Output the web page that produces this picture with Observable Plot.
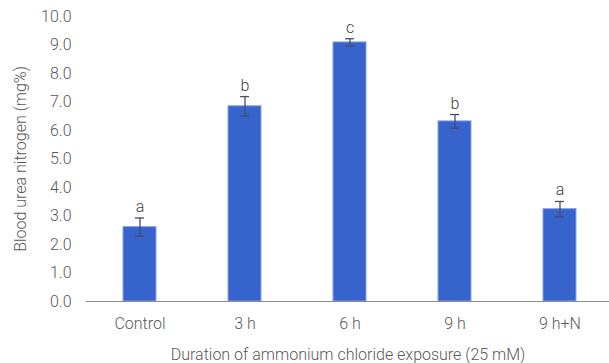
<!DOCTYPE html>
<html>
<head>
<meta charset="utf-8">
<script src="https://cdn.jsdelivr.net/npm/d3@7"></script>
<script src="https://cdn.jsdelivr.net/npm/@observablehq/plot@0.6"></script>
<style>
  html, body { margin: 0; padding: 0; background: #fff; }
  #chart svg { display: block; }
</style>
</head>
<body>
<div id="chart"></div>
<script>
const categories = ["Control", "3 h", "6 h", "9 h", "9 h+N"];
const means = [2.61, 6.85, 9.09, 6.32, 3.24];
const errors = [0.32, 0.34, 0.13, 0.24, 0.27];
const letters = ["a", "b", "c", "b", "a"];
const yTicks = [0, 1, 2, 3, 4, 5, 6, 7, 8, 9, 10];

const data = categories.map((c, i) => ({
  cat: c, mean: means[i], err: errors[i], letter: letters[i],
  lo: means[i] - errors[i], hi: means[i] + errors[i]
}));

const textColor = "#595959";
const font = "Roboto, 'Noto Sans', sans-serif";

const chart = Plot.plot({
  width: 609,
  height: 363,
  marginLeft: 86,
  marginRight: 0,
  marginTop: 16,
  marginBottom: 62,
  style: { fontFamily: font, fontSize: "16px", fontWeight: 300, color: textColor, background: "#fff" },
  x: { type: "band", domain: categories, range: [86, 613], paddingInner: 0.688, paddingOuter: 0.344 },
  y: { domain: [0, 10] },
  marks: [
    Plot.barY(data, { x: "cat", y: "mean", fill: "#3763cc", stroke: "#86a2e8", strokeWidth: 1 }),
    Plot.ruleX(data, { x: "cat", y1: "lo", y2: "hi", stroke: "#4b4b63", strokeWidth: 1.3 }),
    Plot.tickY(data, { x: "cat", y: "hi", stroke: "#4b4b63", strokeWidth: 1.3, insetLeft: 12, insetRight: 12 }),
    Plot.tickY(data, { x: "cat", y: "lo", stroke: "#4b4b63", strokeWidth: 1.3, insetLeft: 12, insetRight: 12 }),
    Plot.text(data, { x: "cat", y: "hi", text: "letter", lineAnchor: "bottom", dy: -6, fill: "#404040", fontSize: 16, fontWeight: 300 }),
    Plot.axisY({ ticks: yTicks, tickFormat: d => d.toFixed(1), tickSize: 0, tickPadding: 15, fill: textColor,
      label: "Blood urea nitrogen (mg%)", labelAnchor: "center", labelArrow: "none", labelOffset: 72 }),
    Plot.axisX({ tickSize: 0, tickPadding: 16, fill: textColor,
      label: "Duration of ammonium chloride exposure (25 mM)", labelAnchor: "center", labelArrow: "none", labelOffset: 58 }),
    Plot.ruleX([0], { x: () => 0, frameAnchor: "left", stroke: "#8c8c8c" }),
    Plot.ruleY([0], { stroke: "#8c8c8c" })
  ]
});
document.getElementById("chart").appendChild(chart);
</script>
</body>
</html>
